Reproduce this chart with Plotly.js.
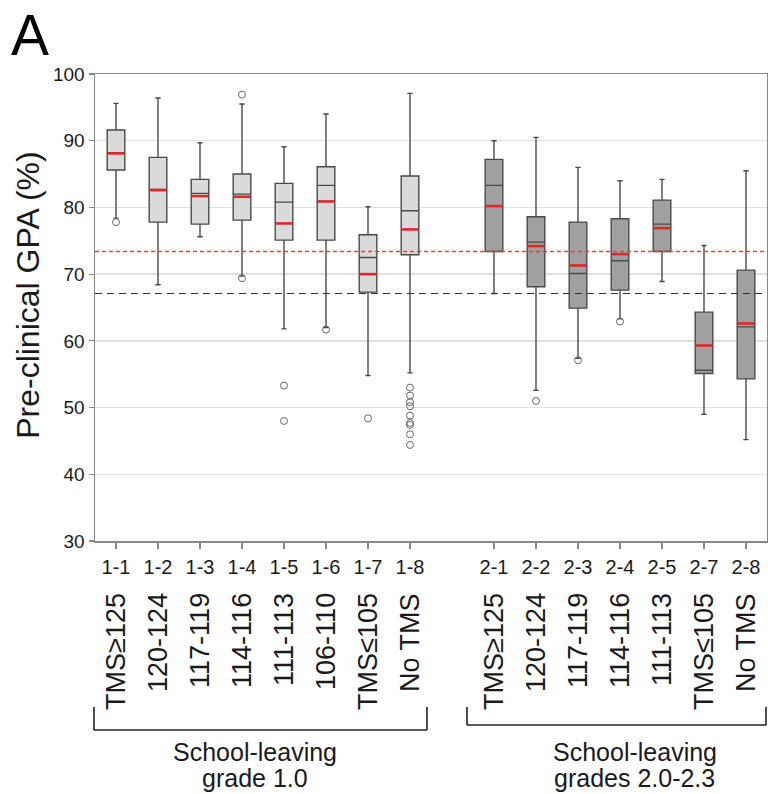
<!DOCTYPE html>
<html>
<head>
<meta charset="utf-8">
<script src="https://cdn.plot.ly/plotly-3.0.1.min.js"></script>
<style>html,body{margin:0;padding:0;background:#fff;}#chart{width:768px;height:794px;}</style>
</head>
<body>
<div id="chart"></div>
<script>
// ---------- DATA ----------
const codes1 = ['1-1','1-2','1-3','1-4','1-5','1-6','1-7','1-8'];
const names1 = ['TMS≥125','120-124','117-119','114-116','111-113','106-110','TMS≤105','No TMS'];
const upper1  = [95.6, 96.4, 89.7, 95.5, 89.1, 94.0, 80.1, 97.1];
const q3_1    = [91.6, 87.5, 84.2, 85.0, 83.6, 86.1, 75.9, 84.7];
const median1 = [88.2, 82.7, 82.1, 82.0, 80.8, 83.3, 72.5, 79.5];
const mean1   = [88.1, 82.6, 81.7, 81.6, 77.6, 80.9, 70.0, 76.7];
const q1_1    = [85.6, 77.8, 77.5, 78.1, 75.1, 75.1, 67.3, 72.9];
const lower1  = [78.4, 68.4, 75.6, 69.7, 61.8, 62.0, 54.8, 55.2];

const codes2 = ['2-1','2-2','2-3','2-4','2-5','2-7','2-8'];
const names2 = ['TMS≥125','120-124','117-119','114-116','111-113','TMS≤105','No TMS'];
const upper2  = [90.0, 90.5, 86.0, 84.0, 84.2, 74.3, 85.5];
const q3_2    = [87.2, 78.6, 77.8, 78.3, 81.1, 64.3, 70.6];
const median2 = [83.3, 74.8, 70.1, 72.0, 77.5, 55.6, 62.1];
const mean2   = [80.2, 74.2, 71.3, 73.0, 76.9, 59.3, 62.6];
const q1_2    = [73.4, 68.1, 64.9, 67.6, 73.4, 55.1, 54.3];
const lower2  = [67.1, 52.6, 57.4, 63.3, 68.9, 49.0, 45.2];

const outlierX = ['1-1','1-4','1-4','1-5','1-5','1-6','1-7',
                  '1-8','1-8','1-8','1-8','1-8','1-8','1-8','1-8','1-8',
                  '2-2','2-3','2-4'];
const outlierY = [77.8, 96.9, 69.4, 53.3, 48.0, 61.7, 48.4,
                  53.0, 51.8, 50.8, 50.2, 48.8, 47.7, 47.4, 46.0, 44.4,
                  51.0, 57.1, 62.9];

const refMeanLine = 73.4;   // red dashed
const refOtherLine = 67.1;  // black dashed

const groupLabels = [['School-leaving','grade 1.0'], ['School-leaving','grades 2.0-2.3']];
const yTitle = 'Pre-clinical GPA (%)';
const panelLetter = 'A';

// ---------- STYLE ----------
const FONT = 'Liberation Sans, Arial, Helvetica, sans-serif';
const TXT = '#1a1a1a';
const BOXLINE = '#4a4a4a';

function boxTrace(codes, q1, med, q3, lo, hi, fill) {
  return {
    type: 'box', x: codes, q1: q1, median: med, q3: q3,
    lowerfence: lo, upperfence: hi,
    width: 0.42, whiskerwidth: 0.3, boxpoints: false,
    fillcolor: fill, line: {color: BOXLINE, width: 1.4},
    hoverinfo: 'skip', showlegend: false
  };
}

const traces = [
  boxTrace(codes1, q1_1, median1, q3_1, lower1, upper1, '#dadada'),
  boxTrace(codes2, q1_2, median2, q3_2, lower2, upper2, '#a0a0a0'),
  {
    type: 'scatter', mode: 'markers', x: codes1.concat(codes2), y: mean1.concat(mean2),
    marker: {symbol: 'line-ew', size: 12, line: {color: '#e3262a', width: 2.6}},
    hoverinfo: 'skip', showlegend: false
  },
  {
    type: 'scatter', mode: 'markers', x: outlierX, y: outlierY,
    marker: {symbol: 'circle-open', size: 7, color: '#666', line: {color: '#666', width: 1}},
    hoverinfo: 'skip', showlegend: false
  }
];

const annotations = [];
function addNames(codes, names) {
  codes.forEach((c, i) => annotations.push({
    x: c, xref: 'x', y: -0.108, yref: 'paper', text: names[i], textangle: -90,
    showarrow: false, xanchor: 'center', yanchor: 'top',
    font: {family: FONT, size: 27, color: TXT}
  }));
}
addNames(codes1, names1);
addNames(codes2, names2);

const groupX = [3.3, 12.35];
groupLabels.forEach((lines, g) => {
  lines.forEach((t, k) => annotations.push({
    x: groupX[g], xref: 'x', y: [-0.452, -0.508][k], yref: 'paper', text: t,
    showarrow: false, xanchor: 'center', yanchor: 'middle',
    font: {family: FONT, size: 25, color: TXT}
  }));
});

annotations.push({
  x: -0.0997, xref: 'paper', y: 0.525, yref: 'paper', text: yTitle, textangle: -90,
  showarrow: false, xanchor: 'center', yanchor: 'middle',
  font: {family: FONT, size: 32, color: TXT}
});
annotations.push({
  x: -0.128, xref: 'paper', y: 1.157, yref: 'paper', text: panelLetter,
  showarrow: false, xanchor: 'left', yanchor: 'top',
  font: {family: FONT, size: 57, color: '#000'}
});

const BR = {color: '#222', width: 1.6};
const shapes = [
  {type: 'line', xref: 'paper', x0: 0, x1: 1, yref: 'y', y0: refMeanLine, y1: refMeanLine,
   line: {color: '#e8403a', width: 1.5, dash: '4px,3px'}},
  {type: 'line', xref: 'paper', x0: 0, x1: 1, yref: 'y', y0: refOtherLine, y1: refOtherLine,
   line: {color: '#333', width: 1.2, dash: '7px,5px'}},
  // bracket 1
  {type: 'line', xref: 'paper', yref: 'paper', x0: -0.0015, x1: -0.0015, y0: -0.3555, y1: -0.4047, line: BR},
  {type: 'line', xref: 'paper', yref: 'paper', x0: -0.0015, x1: 0.494, y0: -0.4047, y1: -0.4047, line: BR},
  {type: 'line', xref: 'paper', yref: 'paper', x0: 0.494, x1: 0.494, y0: -0.3555, y1: -0.4047, line: BR},
  // bracket 2
  {type: 'line', xref: 'paper', yref: 'paper', x0: 0.5536, x1: 0.5536, y0: -0.3555, y1: -0.394, line: BR},
  {type: 'line', xref: 'paper', yref: 'paper', x0: 0.5536, x1: 0.9985, y0: -0.394, y1: -0.394, line: BR},
  {type: 'line', xref: 'paper', yref: 'paper', x0: 0.9985, x1: 0.9985, y0: -0.3555, y1: -0.394, line: BR}
];

const layout = {
  width: 768, height: 794,
  margin: {l: 95, r: 1, t: 74, b: 253, pad: 0},
  paper_bgcolor: '#fff', plot_bgcolor: '#fff',
  font: {family: FONT, color: TXT},
  showlegend: false,
  xaxis: {
    type: 'category', categoryorder: 'array',
    categoryarray: codes1.concat(['gap'], codes2),
    tickmode: 'array', tickvals: codes1.concat(codes2),
    range: [-0.5, 15.5], fixedrange: true,
    ticks: 'outside', ticklen: 6, tickcolor: '#888', tickwidth: 1.2,
    ticklabelstandoff: 1,
    tickfont: {family: FONT, size: 20, color: TXT},
    showline: true, mirror: true, linecolor: '#888', linewidth: 1.5,
    showgrid: false, zeroline: false
  },
  yaxis: {
    range: [30, 100], dtick: 10, tick0: 30, fixedrange: true,
    ticks: 'outside', ticklen: 5, tickcolor: '#888', tickwidth: 1.2,
    tickfont: {family: FONT, size: 19, color: TXT},
    showline: true, mirror: true, linecolor: '#888', linewidth: 1.5,
    showgrid: true, gridcolor: '#e0e0e0', gridwidth: 1.5, zeroline: false
  },
  shapes: shapes,
  annotations: annotations
};

Plotly.newPlot('chart', traces, layout, {staticPlot: true, displayModeBar: false});
</script>
</body>
</html>
